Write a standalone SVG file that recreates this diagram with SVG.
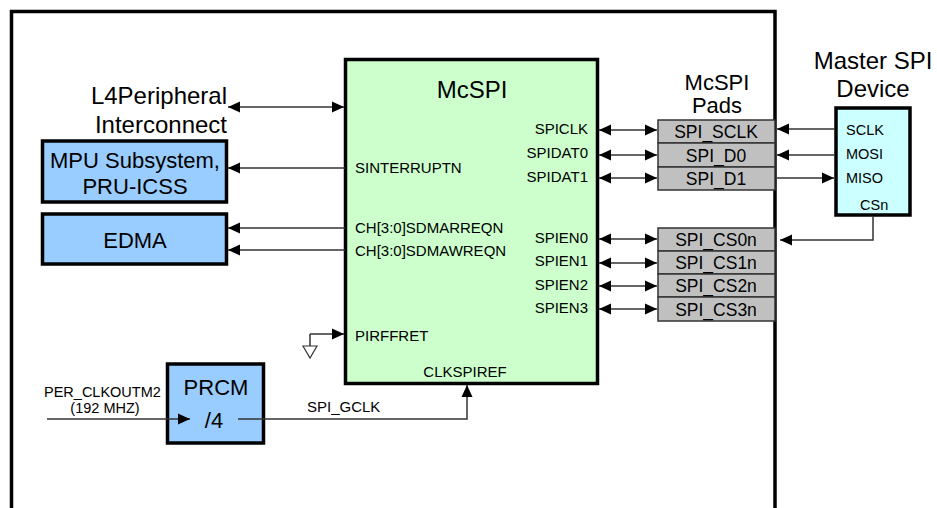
<svg xmlns="http://www.w3.org/2000/svg" width="937" height="508" viewBox="0 0 937 508">
<style>
.frame{fill:none;stroke:#000;stroke-width:3.5}
.box{stroke:#000;stroke-width:3.5}
.blue{fill:#99CCFF}
.green{fill:#CCFFCC}
.cyan{fill:#CCFFFF}
.pad{fill:#C0C0C0;stroke:#333;stroke-width:1.5}
.t{font-family:"Liberation Sans",Arial,sans-serif;fill:#000}
.ttl{font-size:24px}
.big{font-size:22px}
.mid{font-size:22px}
.padt{font-size:17.5px}
.sm{font-size:15px}
.xs{font-size:14.5px}
.c{text-anchor:middle}
.e{text-anchor:end}
.w{fill:none;stroke:#333;stroke-width:1.5}
</style>
<defs>
<marker id="ah" viewBox="0 0 12 12" refX="12" refY="6" markerWidth="12" markerHeight="12" markerUnits="userSpaceOnUse" orient="auto-start-reverse">
<path d="M0,0.5 L12,6 L0,11.5 Z" fill="#000"/>
</marker>
</defs>
<rect width="937" height="508" fill="#fff"/>
<path class="frame" d="M11.5,510 V11.5 H775 V510"/>

<g id="mcspi">
<rect class="box green" x="345.5" y="59.5" width="252" height="324"/>
<text class="t ttl c" x="472" y="98">McSPI</text>
<text class="t sm" x="355" y="173">SINTERRUPTN</text>
<text class="t sm" x="355" y="233">CH[3:0]SDMARREQN</text>
<text class="t sm" x="355" y="256">CH[3:0]SDMAWREQN</text>
<text class="t sm" x="355" y="341">PIRFFRET</text>
<text class="t sm c" x="465" y="377">CLKSPIREF</text>
<text class="t sm e" x="588" y="134">SPICLK</text>
<text class="t sm e" x="588" y="158">SPIDAT0</text>
<text class="t sm e" x="588" y="182">SPIDAT1</text>
<text class="t sm e" x="588" y="243">SPIEN0</text>
<text class="t sm e" x="588" y="266">SPIEN1</text>
<text class="t sm e" x="588" y="290">SPIEN2</text>
<text class="t sm e" x="588" y="313">SPIEN3</text>
</g>

<g id="l4">
<text class="t ttl e" x="227" y="104">L4Peripheral</text>
<text class="t ttl e" x="227" y="133">Interconnect</text>
</g>

<g id="mpu">
<rect class="box blue" x="42.5" y="141" width="184" height="61"/>
<text class="t big c" x="135" y="168">MPU Subsystem,</text>
<text class="t big c" x="135" y="194">PRU-ICSS</text>
</g>

<g id="edma">
<rect class="box blue" x="42.5" y="214" width="184" height="50"/>
<text class="t big c" x="135" y="248">EDMA</text>
</g>

<g id="prcm">
<rect class="box blue" x="167.5" y="364" width="96" height="79"/>
<text class="t big c" x="216" y="395">PRCM</text>
<text class="t big c" x="214" y="428">/4</text>
</g>

<g id="clkin">
<text class="t xs" x="44" y="397">PER_CLKOUTM2</text>
<text class="t xs c" x="105" y="413">(192 MHZ)</text>
<text class="t sm" x="307" y="412">SPI_GCLK</text>
</g>

<g id="pads">
<text class="t mid c" x="717" y="90">McSPI</text>
<text class="t mid c" x="717" y="113">Pads</text>
<rect class="pad" x="658" y="120" width="117" height="23"/>
<rect class="pad" x="658" y="143" width="117" height="24"/>
<rect class="pad" x="658" y="167" width="117" height="23"/>
<rect class="pad" x="658" y="228" width="117" height="23"/>
<rect class="pad" x="658" y="251" width="117" height="23"/>
<rect class="pad" x="658" y="274" width="117" height="23"/>
<rect class="pad" x="658" y="297" width="117" height="24"/>
<text class="t padt c" x="716" y="138">SPI_SCLK</text>
<text class="t padt c" x="716" y="162">SPI_D0</text>
<text class="t padt c" x="716" y="185">SPI_D1</text>
<text class="t padt c" x="716" y="246">SPI_CS0n</text>
<text class="t padt c" x="716" y="269">SPI_CS1n</text>
<text class="t padt c" x="716" y="292">SPI_CS2n</text>
<text class="t padt c" x="716" y="316">SPI_CS3n</text>
</g>

<g id="master">
<text class="t ttl c" x="873" y="69">Master SPI</text>
<text class="t ttl c" x="873" y="97">Device</text>
<rect class="box cyan" x="836" y="108" width="74" height="107"/>
<text class="t xs" x="846" y="135">SCLK</text>
<text class="t xs" x="846" y="159">MOSI</text>
<text class="t xs" x="846" y="183">MISO</text>
<text class="t xs" x="860" y="210">CSn</text>
</g>

<g id="ground">
<path class="w" d="M310,334 V346"/>
<path d="M303,346 H317 L310,358 Z" fill="#fff" stroke="#333" stroke-width="1.2"/>
</g>

<g id="connectors">
<path class="w" d="M228,107 H344" marker-start="url(#ah)" marker-end="url(#ah)"/>
<path class="w" d="M345,168 H228" marker-end="url(#ah)"/>
<path class="w" d="M345,228 H228" marker-end="url(#ah)"/>
<path class="w" d="M345,250 H228" marker-end="url(#ah)"/>
<path class="w" d="M310,334 H344" marker-end="url(#ah)"/>
<path class="w" d="M47,419 H190" marker-end="url(#ah)"/>
<path class="w" d="M238,419 H467 V385" marker-end="url(#ah)"/>
<path class="w" d="M599,130 H657" marker-start="url(#ah)" marker-end="url(#ah)"/>
<path class="w" d="M599,155 H657" marker-start="url(#ah)" marker-end="url(#ah)"/>
<path class="w" d="M599,178 H657" marker-start="url(#ah)" marker-end="url(#ah)"/>
<path class="w" d="M599,239 H657" marker-start="url(#ah)" marker-end="url(#ah)"/>
<path class="w" d="M599,263 H657" marker-start="url(#ah)" marker-end="url(#ah)"/>
<path class="w" d="M599,286 H657" marker-start="url(#ah)" marker-end="url(#ah)"/>
<path class="w" d="M599,309 H657" marker-start="url(#ah)" marker-end="url(#ah)"/>
<path class="w" d="M835,129 H777" marker-end="url(#ah)"/>
<path class="w" d="M835,155 H777" marker-end="url(#ah)"/>
<path class="w" d="M777,178 H834" marker-end="url(#ah)"/>
<path class="w" d="M873,216 V240 H780" marker-end="url(#ah)"/>
</g>
</svg>
